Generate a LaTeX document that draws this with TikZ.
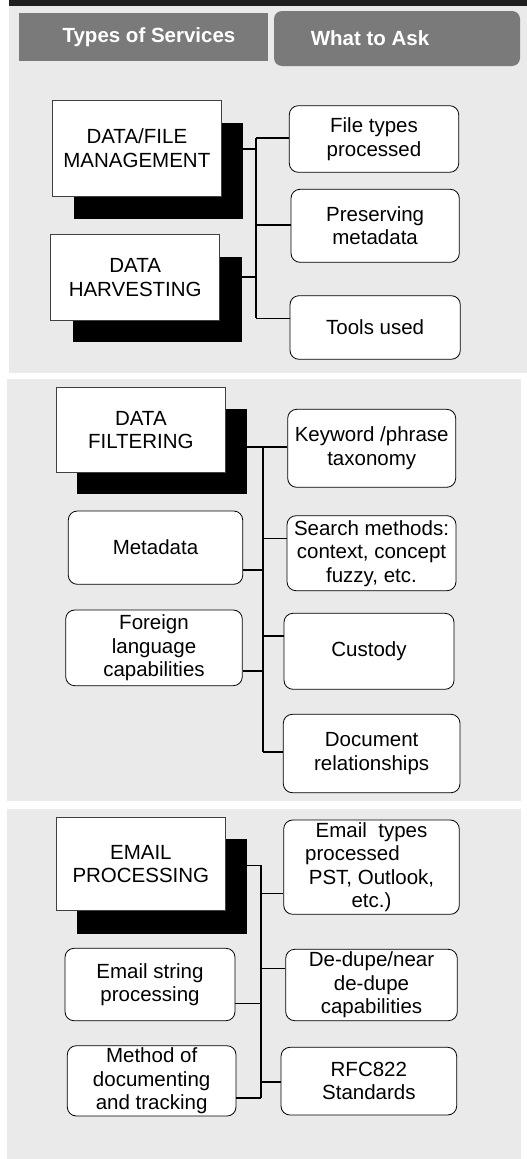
\documentclass[tikz,border=0pt]{standalone}
\usepackage{fontspec}
\setmainfont{Liberation Sans}
\begin{document}
\begin{tikzpicture}[x=1pt,y=-1pt,
  panel/.style={fill=panelgray,draw=none},
  sq/.style={rectangle,draw=black!75,line width=0.7pt,fill=white,align=center,inner sep=0pt,
    font=\fontsize{20.5}{23.5}\selectfont},
  shad/.style={rectangle,fill=black,draw=none,inner sep=0pt},
  rbox/.style={rectangle,rounded corners=9pt,draw=black,line width=0.8pt,fill=white,align=center,inner sep=0pt,
    font=\fontsize{20.5}{23.5}\selectfont},
  hdr/.style={fill=hdrgray,draw=none,inner sep=0pt,text=white,font=\bfseries\fontsize{20.5}{23.5}\selectfont},
  conn/.style={line width=1.6pt,draw=black}]
\definecolor{panelgray}{HTML}{EAEAEA}
\definecolor{hdrgray}{HTML}{7A7A7A}
\definecolor{topdark}{HTML}{1E1E1E}
\useasboundingbox (0,0) rectangle (527,1159);
\fill[white] (0,0) rectangle (527,1159);
% panels
\fill[topdark] (9,0) rectangle (527,6);
\fill[panelgray] (9,6) rectangle (527,373.3);
\fill[panelgray] (7,379.3) rectangle (521,801);
\fill[panelgray] (7,809) rectangle (521,1159);
% header
\node[hdr,minimum width=249pt,minimum height=48pt] (types) at (143.5,37) {\hspace*{11pt}Types of Services};
\node[hdr,rounded corners=8pt,minimum width=246pt,minimum height=55pt] (ask) at (397,38.5) {What to Ask\hspace*{54pt}};

% ---------- section 1 ----------
\node[shad,minimum width=169pt,minimum height=96pt] (mgmts) at (158.5,170.5) {};
\node[sq,minimum width=168.3pt,minimum height=96.7pt] (mgmt) at (136.85,148.35) {DATA/FILE\\MANAGEMENT};
\node[shad,minimum width=169.3pt,minimum height=85.6pt] (harvs) at (157.35,299.5) {};
\node[sq,minimum width=169pt,minimum height=86pt] (harv) at (135.2,277.7) {DATA\\HARVESTING};
\node[rbox,minimum width=169.4pt,minimum height=66.6pt] (ftp) at (374,139) {File types\\processed};
\node[rbox,minimum width=168.3pt,minimum height=73pt] (pres) at (375.15,225.8) {Preserving\\metadata};
\node[rbox,minimum width=170.3pt,minimum height=63.6pt] (tools) at (375.15,327.5) {Tools used};
\coordinate (s1t) at (256,137.7);
\coordinate (s1b) at (256,318.3);
\coordinate (s1m) at (256,148.7);
\coordinate (s1h) at (256,276.7);
\draw[conn] (s1t) -- (s1b);
\draw[conn] (s1t) -- (ftp.west |- s1t);
\draw[conn] (256,225) coordinate (s1p) -- (pres.west |- s1p);
\draw[conn] (s1b) -- (tools.west |- s1b);
\draw[conn] (mgmts.east |- s1m) -- (s1m);
\draw[conn] (harvs.east |- s1h) -- (s1h);

% ---------- section 2 ----------
\node[shad,minimum width=169.7pt,minimum height=85.3pt] (filts) at (162.15,451.65) {};
\node[sq,minimum width=168.3pt,minimum height=85.4pt] (filt) at (140.85,430) {DATA\\FILTERING};
\node[rbox,minimum width=168pt,minimum height=78pt] (kw) at (371.7,448.3) {Keyword /phrase\\taxonomy};
\node[rbox,minimum width=174.4pt,minimum height=73.3pt] (meta) at (155.5,547.65) {Metadata};
\node[rbox,minimum width=169pt,minimum height=75pt] (search) at (371.5,553.2) {Search methods:\\context, concept\\fuzzy, etc.};
\node[rbox,minimum width=176.6pt,minimum height=75.7pt] (foreign) at (154,647.85) {Foreign\\language\\capabilities};
\node[rbox,minimum width=170pt,minimum height=76pt] (custody) at (369,651.3) {Custody};
\node[rbox,minimum width=176.7pt,minimum height=78.4pt] (docrel) at (371.65,753.5) {Document\\relationships};
\coordinate (s2t) at (262.7,446.7);
\coordinate (s2b) at (262.7,751.7);
\draw[conn] (s2t) -- (s2b);
\draw[conn] (filts.east |- s2t) -- (kw.west |- s2t);
\draw[conn] (262.7,538.3) coordinate (s2s) -- (search.west |- s2s);
\draw[conn] (262.7,570) coordinate (s2m) -- (meta.east |- s2m);
\draw[conn] (262.7,635.7) coordinate (s2c) -- (custody.west |- s2c);
\draw[conn] (262.7,670.7) coordinate (s2f) -- (foreign.east |- s2f);
\draw[conn] (s2b) -- (docrel.west |- s2b);

% ---------- section 3 ----------
\node[shad,minimum width=169.7pt,minimum height=95pt] (emails) at (162.15,886.5) {};
\node[sq,minimum width=168.3pt,minimum height=93.4pt] (email) at (140.85,864) {EMAIL\\PROCESSING};
\node[rbox,minimum width=175.6pt,minimum height=94.3pt] (etypes) at (371.5,867.15) {Email\ \ types\\processed\hspace{38pt}\mbox{}\\PST, Outlook,\\etc.)};
\node[rbox,minimum width=171.6pt,minimum height=71.4pt] (dedupe) at (371.5,985) {De-dupe/near\\de-dupe\\capabilities};
\node[rbox,minimum width=170pt,minimum height=72.4pt] (estring) at (150,984.5) {Email string\\processing};
\node[rbox,minimum width=168.7pt,minimum height=70.3pt] (method) at (151.65,1080.85) {Method of\\documenting\\and tracking};
\node[rbox,minimum width=175.7pt,minimum height=67.7pt] (rfc) at (368.85,1081.15) {RFC822\\Standards};
\coordinate (s3t) at (260.7,865.3);
\coordinate (s3b) at (260.7,1098.3);
\draw[conn] (emails.east |- s3t) -- (s3t) -- (s3b);
\draw[conn] (260.7,893.3) coordinate (s3e) -- (etypes.west |- s3e);
\draw[conn] (260.7,968.3) coordinate (s3d) -- (dedupe.west |- s3d);
\draw[conn] (260.7,1003.3) coordinate (s3s) -- (estring.east |- s3s);
\draw[conn] (260.7,1081.7) coordinate (s3r) -- (rfc.west |- s3r);
\draw[conn] (260.7,1097.7) coordinate (s3m) -- (method.east |- s3m);
\end{tikzpicture}
\end{document}
